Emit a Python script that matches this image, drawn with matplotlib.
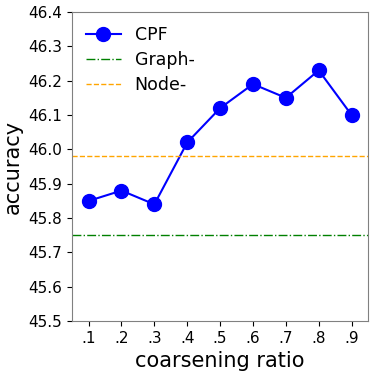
import matplotlib
matplotlib.use('Agg')
import matplotlib.pyplot as plt

ratios = [0.1, 0.2, 0.3, 0.4, 0.5, 0.6, 0.7, 0.8, 0.9]
tick_labels = ['.1', '.2', '.3', '.4', '.5', '.6', '.7', '.8', '.9']
cpf_acc = [45.85, 45.88, 45.84, 46.02, 46.12, 46.19, 46.15, 46.23, 46.10]
graph_acc = 45.75
node_acc = 45.98

fig = plt.figure(figsize=(3.74, 3.73), dpi=100)
ax = fig.add_axes([0.193, 0.139, 0.791, 0.829])

ax.plot(ratios, cpf_acc, 'o-', color='blue', markersize=10, linewidth=1.5, label='CPF')
ax.axhline(graph_acc, color='green', linestyle='-.', linewidth=1, label='Graph-')
ax.axhline(node_acc, color='orange', linestyle='--', linewidth=1, label='Node-')

ax.set_xlim(0.05, 0.95)
ax.set_ylim(45.5, 46.4)
ax.set_xticks(ratios)
ax.set_xticklabels(tick_labels)
ax.set_yticks([45.5 + 0.1 * i for i in range(10)])
ax.set_yticklabels([f'{45.5 + 0.1 * i:.1f}' for i in range(10)])
ax.tick_params(labelsize=11)
for s in ax.spines.values():
    s.set_color('gray')

ax.set_xlabel('coarsening ratio', fontsize=15)
ax.set_ylabel('accuracy', fontsize=15)
ax.legend(loc='upper left', fontsize=12.5, frameon=False, labelspacing=0.4,
          handlelength=2.0, handletextpad=0.8, borderaxespad=0.4)

fig.savefig('out.png', dpi=100)
